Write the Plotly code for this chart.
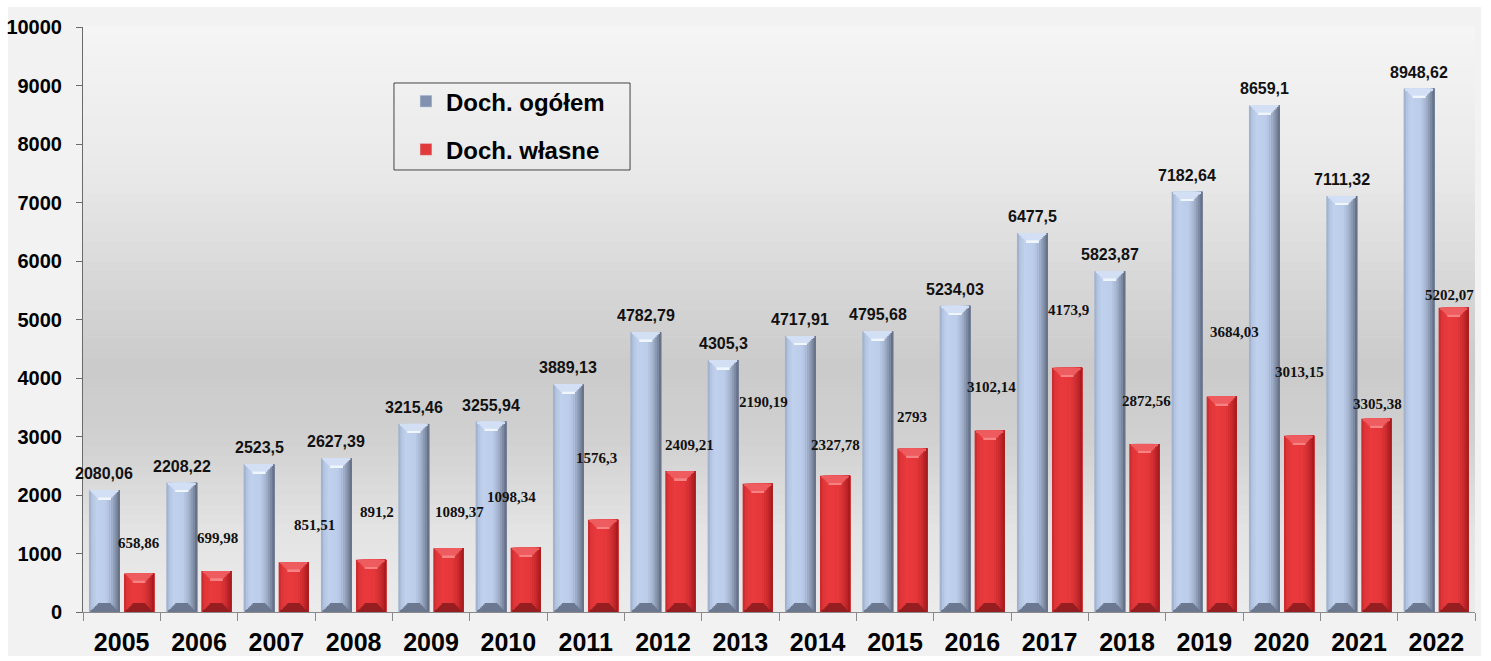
import plotly.graph_objects as go

# ---------------- data ----------------
years = [2005, 2006, 2007, 2008, 2009, 2010, 2011, 2012, 2013,
         2014, 2015, 2016, 2017, 2018, 2019, 2020, 2021, 2022]
total_income = [2080.06, 2208.22, 2523.5, 2627.39, 3215.46, 3255.94, 3889.13, 4782.79, 4305.3,
                4717.91, 4795.68, 5234.03, 6477.5, 5823.87, 7182.64, 8659.1, 7111.32, 8948.62]
own_income = [658.86, 699.98, 851.51, 891.2, 1089.37, 1098.34, 1576.3, 2409.21, 2190.19,
              2327.78, 2793, 3102.14, 4173.9, 2872.56, 3684.03, 3013.15, 3305.38, 5202.07]
series_names = ["Doch. ogółem", "Doch. własne"]
y_ticks = [0, 1000, 2000, 3000, 4000, 5000, 6000, 7000, 8000, 9000, 10000]

# label placement for the red series (as laid out in the original chart)
own_label_y = [1180, 1265, 1487, 1709, 1709, 1966, 2632, 2855, 3590,
               2855, 3333, 3846, 5162, 3607, 4786, 4110, 3550, 5419]
own_label_dx = [0, 1, 21, 6, 11, -14, -7, 9, 6, 0, 0, 2, 1, 2, 13, 0, 1, -4]

# ---------------- styles ----------------
PX_PER_UNIT = 585 / 10000.0          # vertical scale of the plot area
BLUE_OFF, BLUE_W = -0.423, 0.40
RED_OFF, RED_W = 0.03, 0.39
N_SLICES = 14
BEVEL_LEVELS = [1.5, 3.0, 4.5, 6.0, 7.5, 9.0]
BAR_PX = 31

blue_stops = [(0.0, (150, 166, 196)), (0.08, (178, 195, 224)), (0.25, (192, 209, 238)),
              (0.55, (188, 205, 234)), (0.72, (165, 180, 208)), (0.88, (128, 141, 166)),
              (1.0, (92, 103, 124))]
red_stops = [(0.0, (188, 38, 41)), (0.08, (222, 52, 55)), (0.3, (233, 58, 61)),
             (0.6, (229, 56, 59)), (0.8, (208, 45, 48)), (1.0, (160, 26, 29))]


def interp(stops, t):
    for (t0, c0), (t1, c1) in zip(stops[:-1], stops[1:]):
        if t <= t1:
            f = (t - t0) / (t1 - t0) if t1 > t0 else 0
            return tuple(c0[k] + (c1[k] - c0[k]) * f for k in range(3))
    return stops[-1][1]


def rgb(c):
    return "rgb(%d,%d,%d)" % tuple(int(round(v)) for v in c)


fig = go.Figure()


def add_bar_series(values, stops, off, width, top_col, top_hl, bottom_col):
    n = len(values)
    sw = width / N_SLICES
    # horizontal shading: each slice runs to the right edge, later ones cover earlier
    for j in range(N_SLICES):
        t = (j + 0.5) / N_SLICES
        fig.add_trace(go.Bar(x=years, y=values, offset=off + j * sw, width=width - j * sw,
                             marker_color=rgb(interp(stops, t)), marker_line_width=0,
                             showlegend=False, hoverinfo="skip"))
    # top and bottom bevels built from nested rectangles (trapezoid shape)
    for d_px in BEVEL_LEVELS:
        inset = d_px / BAR_PX * width
        h = d_px / PX_PER_UNIT
        fig.add_trace(go.Bar(x=years, y=[h] * n, base=[v - h for v in values],
                             offset=off + inset, width=width - 2 * inset,
                             marker_color=top_col, marker_line_width=0,
                             showlegend=False, hoverinfo="skip"))
        fig.add_trace(go.Bar(x=years, y=[h] * n, base=[0] * n,
                             offset=off + inset, width=width - 2 * inset,
                             marker_color=bottom_col, marker_line_width=0,
                             showlegend=False, hoverinfo="skip"))
    # highlight line at the inner edge of the top bevel
    hd = BEVEL_LEVELS[-1]
    inset = hd / BAR_PX * width
    hh = 1.8 / PX_PER_UNIT
    fig.add_trace(go.Bar(x=years, y=[hh] * n, base=[v - hd / PX_PER_UNIT for v in values],
                         offset=off + inset, width=width - 2 * inset,
                         marker_color=top_hl, marker_line_width=0,
                         showlegend=False, hoverinfo="skip"))


add_bar_series(total_income, blue_stops, BLUE_OFF, BLUE_W,
               "rgb(210,223,244)", "rgb(240,246,253)", "rgb(108,120,144)")
add_bar_series(own_income, red_stops, RED_OFF, RED_W,
               "rgb(238,92,95)", "rgb(246,130,132)", "rgb(150,30,33)")

# legend entries
fig.add_trace(go.Bar(x=[None], y=[None], name=series_names[0], marker_color="#8391b0",
                     legendgroup="a"))
fig.add_trace(go.Bar(x=[None], y=[None], name=series_names[1], marker_color="#e03a3c",
                     legendgroup="b"))


def fmt(v):
    return f"{v:g}".replace(".", ",")


annotations = []
for yr, v in zip(years, total_income):
    annotations.append(dict(x=yr + BLUE_OFF + BLUE_W / 2, y=v, xref="x", yref="y",
                            text=fmt(v), showarrow=False, yanchor="bottom", yshift=6,
                            font=dict(family="Liberation Sans, Arial", size=16,
                                      color="#111111", weight="bold")))
for yr, v, ly, dx in zip(years, own_income, own_label_y, own_label_dx):
    annotations.append(dict(x=yr + RED_OFF + RED_W / 2, y=ly, xref="x", yref="y",
                            text=fmt(v), showarrow=False, yanchor="middle", xshift=dx,
                            font=dict(family="Liberation Serif, Times New Roman", size=15,
                                      color="#111111", weight="bold")))

# background: outer panel and vertical gradient of the plot area
shapes = [dict(type="rect", xref="paper", yref="paper", x0=-0.0539, x1=1.0043,
               y0=-0.0752, y1=1.034, fillcolor="#f2f2f2", line_width=0, layer="below")]
bg_stops = [(0.0, (236, 236, 236)), (0.15, (226, 226, 226)), (0.3, (208, 208, 208)),
            (0.42, (203, 203, 203)), (0.55, (214, 214, 214)), (0.75, (233, 233, 233)),
            (1.0, (245, 245, 245))]
NB = 60
for k in range(NB):
    t = (k + 0.5) / NB
    shapes.append(dict(type="rect", xref="x domain", yref="y domain", x0=0, x1=1,
                       y0=k / NB, y1=(k + 1) / NB + 0.002,
                       fillcolor=rgb(interp(bg_stops, t)), line_width=0, layer="below"))
# legend frame
shapes.append(dict(type="rect", xref="paper", yref="paper", x0=0.2234, x1=0.393,
                   y0=0.7556, y1=0.9043, line=dict(color="#444444", width=1),
                   fillcolor="rgba(0,0,0,0)", layer="above"))

fig.update_layout(
    width=1491, height=661, autosize=False,
    margin=dict(l=83, r=16, t=27, b=49),
    paper_bgcolor="white", plot_bgcolor="rgba(0,0,0,0)",
    barmode="overlay",
    shapes=shapes,
    annotations=annotations,
    showlegend=True,
    legend=dict(x=0.2320, y=0.911, xanchor="left", yanchor="top",
                bgcolor="rgba(0,0,0,0)", borderwidth=0,
                font=dict(family="Liberation Sans, Arial", size=24, color="black",
                          weight="bold"),
                traceorder="grouped", tracegroupgap=14, itemwidth=30),
    xaxis=dict(range=[2004.5, 2022.5], tickvals=years, ticktext=[str(y) for y in years],
               tickfont=dict(family="Liberation Sans, Arial", size=25, color="black",
                             weight="bold"),
               showline=True, linecolor="#8a8a8a", linewidth=1, showgrid=False,
               zeroline=False, ticks="", ticklabelstandoff=8, automargin=False,
               minor=dict(ticks="outside", tick0=2004.5, dtick=1, ticklen=8,
                          tickcolor="#8a8a8a", showgrid=False)),
    yaxis=dict(range=[0, 10000], tickvals=y_ticks, ticktext=[str(v) for v in y_ticks],
               tickfont=dict(family="Liberation Sans, Arial", size=20, color="black",
                             weight="bold"),
               showline=True, linecolor="#6b6b6b", linewidth=1, showgrid=False,
               zeroline=False, ticks="outside", ticklen=6, tickcolor="#6b6b6b",
               ticklabelstandoff=10, automargin=False),
)

fig.write_html("out.html", config={"displayModeBar": False},
               post_script="document.body.style.margin='0';")
